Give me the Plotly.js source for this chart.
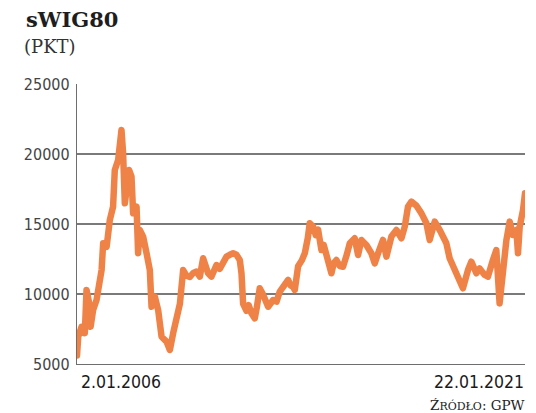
<!DOCTYPE html>
<html>
<head>
<meta charset="utf-8">
<script src="https://cdn.plot.ly/plotly-3.0.1.min.js"></script>
<style>html,body{margin:0;padding:0;background:#fff;}#chart{width:536px;height:413px;}
.scatterlayer path.js-line{stroke-linejoin:round;stroke-linecap:round;}</style>
</head>
<body>
<div id="chart"></div>
<script>
const dates = [
'2006-01-02','2006-01-17','2006-02-27','2006-04-08','2006-04-29','2006-06-09','2006-06-18','2006-07-19','2006-08-30','2006-10-31',
'2006-11-19','2007-01-01','2007-02-09','2007-03-21','2007-04-11','2007-05-22','2007-07-02','2007-07-22','2007-08-12','2007-09-02',
'2007-10-04','2007-11-02','2007-11-22','2008-01-03','2008-01-22','2008-02-12','2008-03-24','2008-05-05','2008-06-14','2008-07-05',
'2008-08-15','2008-09-24','2008-11-05','2009-01-05','2009-02-15','2009-03-27','2009-05-08','2009-06-18','2009-07-28','2009-09-08',
'2009-10-18','2009-11-28','2010-01-08','2010-02-18','2010-03-30','2010-05-02','2010-05-30','2010-07-10','2010-09-10','2010-10-20',
'2010-11-30','2011-01-11','2011-02-20','2011-04-02','2011-05-13','2011-06-23','2011-07-14','2011-08-03','2011-09-13','2011-10-11',
'2011-11-13','2011-12-24','2012-01-17','2012-02-23','2012-04-01','2012-04-25','2012-06-05','2012-08-05','2012-09-16','2012-10-26',
'2012-12-06','2012-12-27','2013-02-05','2013-03-10','2013-04-08','2013-04-28','2013-06-08','2013-07-23','2013-08-29','2013-10-05',
'2013-10-29','2013-12-09','2014-01-11','2014-02-08','2014-03-21','2014-04-19','2014-05-22','2014-06-19','2014-07-22','2014-08-19',
'2014-09-21','2014-11-01','2014-12-11','2015-01-26','2015-03-04','2015-05-04','2015-06-14','2015-07-25','2015-09-24','2015-11-24',
'2016-01-04','2016-02-14','2016-04-15','2016-05-27','2016-07-27','2016-09-27','2016-11-27','2017-01-07','2017-02-16','2017-03-30',
'2017-05-31','2017-07-31','2017-09-30','2017-11-09','2018-01-10','2018-03-12','2018-06-02','2018-07-12','2018-09-12','2018-11-12',
'2018-12-22','2019-02-22','2019-04-04','2019-06-05','2019-07-15','2019-09-15','2019-10-25','2019-12-25','2020-02-05','2020-03-16',
'2020-04-27','2020-06-08','2020-07-18','2020-08-27','2020-10-08','2020-10-28','2020-11-18','2020-12-09','2020-12-29','2021-01-22'
];
const values = [
5600,6950,7660,7200,10290,9090,7660,8860,9570,11710,
13620,13380,15290,16240,18860,19570,21710,20050,16480,17670,
18860,18380,15760,16240,12910,14570,14100,12910,11710,9090,
9810,8860,6950,6600,6000,7190,8140,9300,11710,11300,
11210,11500,11600,11240,12550,11900,11480,11240,12070,11800,
12190,12670,12800,12910,12800,12430,11480,9300,8800,9200,
8620,8260,9000,10410,10000,9570,9090,9570,9450,10170,
10500,10760,11000,10600,10520,10290,11980,12400,12910,14000,
15050,14810,14200,14600,13140,13500,12910,12400,11480,12200,
12430,12000,11950,12800,13620,13980,12790,13860,13500,12910,
12190,12900,13860,12670,14100,14570,13980,14810,16240,16600,
16300,15760,15050,13860,15170,14570,13620,12550,11710,10760,
10410,11710,12310,11480,11830,11360,11240,12430,13140,9330,
11710,13860,15170,14210,14570,12910,14810,15290,16000,17190
];
const yTicks = [5000, 10000, 15000, 20000, 25000];
const xLabelDates = ['2006-01-02', '2021-01-22'];
const xLabels = ['2.01.2006', '22.01.2021'];
const titleText = 'sWIG80';
const unitText = '(PKT)';
const sourceText = 'Ź<span style="font-size:11px">RÓDŁO</span>: GPW';

const trace = {
  x: dates, y: values, type: 'scatter', mode: 'lines',
  line: {color: '#EF8347', width: 6.5, shape: 'linear'},
  hoverinfo: 'skip'
};

const layout = {
  width: 536, height: 413,
  margin: {l: 77, r: 11, t: 84, b: 49, pad: 0},
  paper_bgcolor: '#ffffff', plot_bgcolor: '#ffffff',
  showlegend: false,
  title: {
    text: '<b>' + titleText + '</b>',
    font: {family: 'DejaVu Serif', size: 21, color: '#1e1e1e'},
    x: 26/536, xanchor: 'left', xref: 'container',
    y: 1 - 20/413, yanchor: 'middle', yref: 'container'
  },
  xaxis: {
    type: 'date',
    range: [xLabelDates[0], xLabelDates[1]],
    showgrid: false, zeroline: false,
    showticklabels: false, ticks: '',
    showline: true, linecolor: '#6e6e6e', linewidth: 1.2
  },
  yaxis: {
    range: [5000, 25000],
    tickvals: yTicks,
    ticktext: yTicks.map(String),
    tickfont: {family: 'DejaVu Sans Condensed', size: 16, color: '#444'},
    ticks: 'outside', ticklen: 3, tickcolor: 'rgba(0,0,0,0)',
    showgrid: true, gridcolor: '#7a7a7a', gridwidth: 1.2,
    zeroline: false,
    showline: true, linecolor: '#6e6e6e', linewidth: 1.2
  },
  annotations: [
    {text: unitText, xref: 'paper', yref: 'paper', x: -50/448, y: 1 + (84-46)/280,
     xanchor: 'left', yanchor: 'middle', showarrow: false, xshift: -5,
     font: {family: 'DejaVu Serif', size: 18, color: '#333'}},
    {text: xLabels[0], xref: 'x', yref: 'paper', x: xLabelDates[0], y: -(382-364)/280,
     xanchor: 'left', yanchor: 'middle', showarrow: false, xshift: 2,
     font: {family: 'DejaVu Sans Condensed', size: 17.5, color: '#1a1a1a'}},
    {text: xLabels[1], xref: 'x', yref: 'paper', x: xLabelDates[1], y: -(382-364)/280,
     xanchor: 'right', yanchor: 'middle', showarrow: false, xshift: 1,
     font: {family: 'DejaVu Sans Condensed', size: 17.5, color: '#1a1a1a'}},
    {text: sourceText, xref: 'paper', yref: 'paper', x: 1, y: -(405-364)/280,
     xanchor: 'right', yanchor: 'middle', showarrow: false, xshift: 2,
     font: {family: 'DejaVu Serif', size: 13.5, color: '#222'}}
  ]
};

Plotly.newPlot('chart', [trace], layout, {staticPlot: true, displayModeBar: false});
</script>
</body>
</html>
